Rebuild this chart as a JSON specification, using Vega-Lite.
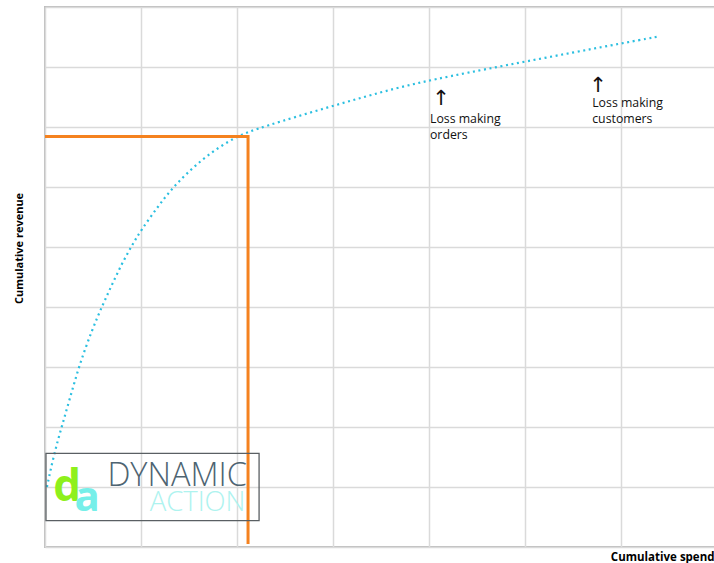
{
  "$schema": "https://vega.github.io/schema/vega-lite/v6.json",
  "width": 672,
  "height": 540,
  "autosize": "none",
  "padding": {"left": 45, "top": 7, "right": 0, "bottom": 16},
  "background": "white",
  "config": {
    "view": {"stroke": "#bdbdbd", "strokeWidth": 2},
    "axis": {
      "labels": false, "ticks": false, "domain": false,
      "gridColor": "#dadada", "gridWidth": 1.5, "gridOpacity": 1,
      "titleFont": "Open Sans", "titleFontWeight": "bold", "titleFontSize": 11, "titleColor": "#000"
    },
    "text": {"font": "Open Sans"}
  },
  "encoding": {
    "x": {
      "field": "x", "type": "quantitative",
      "scale": {"domain": [0, 7], "nice": false, "zero": false},
      "axis": {"values": [0, 1, 2, 3, 4, 5, 6, 7], "title": "Cumulative spend", "titleFontSize": 11.5,
               "titleAnchor": "end", "titleAlign": "right", "titleX": 669, "titleY": 13, "titleBaseline": "alphabetic"}
    },
    "y": {
      "field": "y", "type": "quantitative",
      "scale": {"domain": [0, 9], "nice": false, "zero": false},
      "axis": {"values": [0, 1, 2, 3, 4, 5, 6, 7, 8, 9], "title": "Cumulative revenue",
               "titleX": -25.5, "titleY": 241, "titleAlign": "center", "titleBaseline": "middle", "titleAngle": -90}
    }
  },
  "layer": [
    {
      "data": {"values": [
        {"x": 0.02, "y": 1.0}, {"x": 0.094, "y": 1.55}, {"x": 0.177, "y": 2.02},
        {"x": 0.26, "y": 2.48}, {"x": 0.355, "y": 3.02}, {"x": 0.49, "y": 3.62}, {"x": 0.605, "y": 4.05},
        {"x": 0.70, "y": 4.38}, {"x": 0.80, "y": 4.72}, {"x": 0.907, "y": 5.03}, {"x": 1.0, "y": 5.28},
        {"x": 1.17, "y": 5.66}, {"x": 1.30, "y": 5.93}, {"x": 1.47, "y": 6.22}, {"x": 1.69, "y": 6.53},
        {"x": 1.98, "y": 6.84}, {"x": 2.26, "y": 7.0}, {"x": 2.97, "y": 7.34}, {"x": 3.67, "y": 7.66},
        {"x": 4.19, "y": 7.84}, {"x": 5.0, "y": 8.09}, {"x": 5.99, "y": 8.39}, {"x": 6.40, "y": 8.51}
      ]},
      "mark": {"type": "line", "interpolate": "basis", "color": "#2bbfe0", "strokeWidth": 2.2, "strokeDash": [2, 3.6]}
    },
    {
      "data": {"values": [
        {"step": 1, "x": 0, "y": 6.84}, {"step": 2, "x": 2.115, "y": 6.84}, {"step": 3, "x": 2.115, "y": 0.05}
      ]},
      "mark": {"type": "line", "color": "#f5821f", "strokeWidth": 3, "strokeJoin": "miter"},
      "encoding": {"order": {"field": "step", "type": "quantitative"}}
    },
    {
      "data": {"values": [{"x": 0.01, "x2": 2.23, "y": 1.56, "y2": 0.44}]},
      "mark": {"type": "rect", "fill": null, "fillOpacity": 0, "stroke": "#5a5f63", "strokeWidth": 1.3},
      "encoding": {"x2": {"field": "x2"}, "y2": {"field": "y2"}}
    },
    {
      "data": {"values": [{"x": 0.65, "y": 1.02, "t": "DYNAMIC"}]},
      "mark": {"type": "text", "align": "left", "baseline": "alphabetic", "fontSize": 32.5, "fontWeight": 300, "color": "#4e6472", "font": "Open Sans"},
      "encoding": {"text": {"field": "t"}}
    },
    {
      "data": {"values": [{"x": 1.09, "y": 0.6, "t": "ACTION"}]},
      "mark": {"type": "text", "align": "left", "baseline": "alphabetic", "fontSize": 27.5, "fontWeight": 300, "color": "#aef3ef", "font": "Open Sans"},
      "encoding": {"text": {"field": "t"}}
    },
    {
      "data": {"values": [{"x": 0.23, "y": 0.77, "t": "d"}]},
      "mark": {"type": "text", "align": "center", "baseline": "alphabetic", "fontSize": 44, "fontWeight": "bold", "color": "#8ef01c", "font": "Open Sans"},
      "encoding": {"text": {"field": "t"}}
    },
    {
      "data": {"values": [{"x": 0.44, "y": 0.6, "t": "a"}]},
      "mark": {"type": "text", "align": "center", "baseline": "alphabetic", "fontSize": 42, "fontWeight": "bold", "color": "#76efe9", "font": "Open Sans"},
      "encoding": {"text": {"field": "t"}}
    },
    {
      "data": {"values": [
        {"x": 4.01, "y": 7.06, "t": "Loss making\norders"},
        {"x": 5.70, "y": 7.33, "t": "Loss making\ncustomers"}
      ]},
      "mark": {"type": "text", "align": "left", "baseline": "alphabetic", "fontSize": 12.3, "lineBreak": "\n", "lineHeight": 16, "color": "#111"},
      "encoding": {"text": {"field": "t"}}
    },
    {
      "data": {"values": [
        {"x": 4.125, "y": 7.36, "t": "↑"},
        {"x": 5.76, "y": 7.59, "t": "↑"}
      ]},
      "mark": {"type": "text", "align": "center", "baseline": "alphabetic", "fontSize": 21, "color": "#111", "font": "DejaVu Sans"},
      "encoding": {"text": {"field": "t"}}
    }
  ]
}
